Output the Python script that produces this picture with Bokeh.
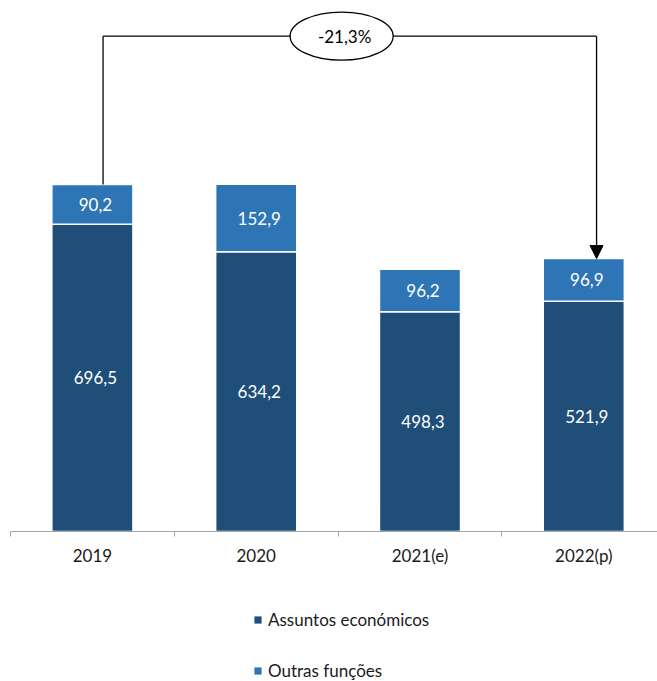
from bokeh.plotting import figure
from bokeh.layouts import column
from bokeh.models import (Range1d, LinearAxis, FixedTicker, ColumnDataSource, Legend,
                          LegendItem, Arrow, NormalHead)
from bokeh.core.properties import value
from bokeh.embed import file_html
from bokeh.resources import INLINE

categories = ["2019", "2020", "2021(e)", "2022(p)"]
series_names = ["Assuntos económicos", "Outras funções"]
assuntos = [696.5, 634.2, 498.3, 521.9]
outras = [90.2, 152.9, 96.2, 96.9]

DARK = "#1F4E79"
LIGHT = "#2E75B6"
FONT = value("Lato")
FS = "17px"

def fmt(v):
    return f"{v:.1f}".replace(".", ",")

xs = [i + 0.5 for i in range(len(categories))]
totals = [a + o for a, o in zip(assuntos, outras)]

src = ColumnDataSource(dict(
    x=xs, a=assuntos, o=outras, tot=totals,
    a_mid=[a / 2 for a in assuntos],
    o_mid=[a + o / 2 for a, o in zip(assuntos, outras)],
    a_lab=[fmt(v) for v in assuntos],
    o_lab=[fmt(v) for v in outras],
))

p = figure(frame_width=647, frame_height=531, output_backend="svg", toolbar_location=None,
           x_range=Range1d(0, 3.95), y_range=Range1d(0, 1204),
           x_axis_type=None, y_axis_type=None,
           min_border_left=10, min_border_right=0, min_border_top=0, min_border_bottom=36)
p.outline_line_color = None
p.xgrid.visible = False
p.ygrid.visible = False

p.vbar(x="x", bottom=0, top="a", width=0.495, source=src,
       fill_color=DARK, line_color="white", line_width=1.5)
p.vbar(x="x", bottom="a", top="tot", width=0.495, source=src,
       fill_color=LIGHT, line_color="white", line_width=1.5)

p.text(x="x", y="a_mid", text="a_lab", source=src, x_offset=3,
       text_align="center", text_baseline="middle", text_color="white",
       text_font=FONT, text_font_size=FS)
p.text(x="x", y="o_mid", text="o_lab", source=src, x_offset=3,
       text_align="center", text_baseline="middle", text_color="white",
       text_font=FONT, text_font_size=FS)

# x axis
ax = LinearAxis(ticker=FixedTicker(ticks=xs, minor_ticks=list(range(len(categories) + 1))))
ax.major_label_overrides = {x: c for x, c in zip(xs, categories)}
ax.major_tick_out = 0
ax.major_tick_in = 0
ax.minor_tick_out = 5
ax.minor_tick_in = 0
ax.minor_tick_line_color = "#A6A6A6"
ax.axis_line_color = "#A6A6A6"
ax.major_label_standoff = 8
ax.major_label_text_font = "Lato"
ax.major_label_text_font_size = FS
ax.major_label_text_color = "#1a1a1a"
p.add_layout(ax, "below")

# change annotation
change = (totals[-1] - totals[0]) / totals[0] * 100
level = max(totals) * 1.427
x1 = xs[0] + 0.065
x2 = xs[-1] + 0.078
p.line(x=[x1, x1], y=[totals[0], level], line_color="black", line_width=1.3)
p.line(x=[x1, x2], y=[level, level], line_color="black", line_width=1.3)
p.add_layout(Arrow(end=NormalHead(size=13, fill_color="black", line_color="black"),
                   x_start=x2, y_start=level, x_end=x2, y_end=totals[-1],
                   line_color="black", line_width=1.3))
xc = (x1 + x2) / 2 - 0.05
p.ellipse(x=[xc], y=[level], width=103, height=48, width_units="screen",
          height_units="screen", fill_color="white", line_color="black", line_width=1.3)
p.text(x=[xc], y=[level], text=[f"{change:.1f}%".replace(".", ",")], x_offset=3,
       text_align="center", text_baseline="middle", text_color="black",
       text_font=FONT, text_font_size=FS)

# legend panel (zero-height placeholder bars only carry the legend swatches)
p2 = figure(width=657, height=114, output_backend="svg", toolbar_location=None,
            x_range=Range1d(0, 1), y_range=Range1d(0, 1),
            x_axis_type=None, y_axis_type=None,
            min_border_left=0, min_border_right=0, min_border_top=0, min_border_bottom=0)
p2.outline_line_color = None
p2.xgrid.visible = False
p2.ygrid.visible = False
l_a = p2.vbar(x=[0], bottom=[0], top=[0], width=0, fill_color=DARK, line_color=DARK, line_width=0)
l_o = p2.vbar(x=[0], bottom=[0], top=[0], width=0, fill_color=LIGHT, line_color=LIGHT, line_width=0)
legend = Legend(items=[LegendItem(label=series_names[0], renderers=[l_a]),
                       LegendItem(label=series_names[1], renderers=[l_o])],
                location=(243, 1), orientation="vertical",
                glyph_width=9, glyph_height=9, label_standoff=6,
                label_height=17, spacing=30, padding=0, margin=0,
                border_line_color=None, background_fill_alpha=0,
                label_text_font="Lato", label_text_font_size=FS,
                label_text_color="#1a1a1a")
p2.add_layout(legend, "center")

open("out.html", "w").write(file_html(column(p, p2, spacing=0), INLINE))
